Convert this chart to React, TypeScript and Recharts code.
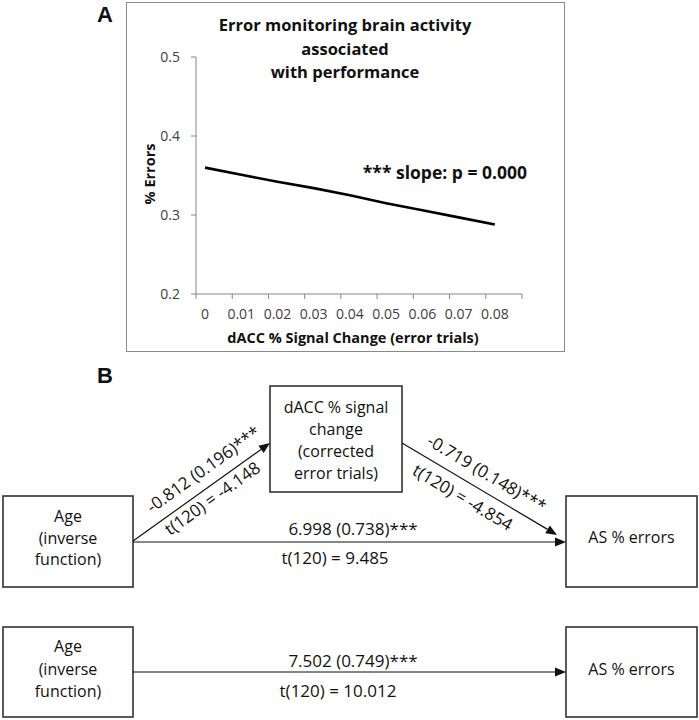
import React from "react";
import { LineChart, Line, XAxis, YAxis } from "recharts";

// ---------- Panel A data ----------
const signalChange = [0, 0.01, 0.02, 0.03, 0.04, 0.05, 0.06, 0.07, 0.08];
const errorRates = [0.36, 0.351, 0.342, 0.334, 0.325, 0.315, 0.306, 0.297, 0.288];
const yTicks = [0.2, 0.3, 0.4, 0.5];
const xTickMarks = [-0.0025, 0.0075, 0.0175, 0.0275, 0.0375, 0.0475, 0.0575, 0.0675, 0.0775, 0.0875];
const xTickLabels = ["0", "0.01", "0.02", "0.03", "0.04", "0.05", "0.06", "0.07", "0.08"];
const titleLines = ["Error monitoring brain activity", "associated", "with performance"];
const slopeNote = "*** slope: p = 0.000";
const xTitle = "dACC % Signal Change (error trials)";
const yTitle = "% Errors";

// ---------- Panel B data ----------
const ageBox = ["Age", "(inverse", "function)"];
const mediatorBox = ["dACC % signal", "change", "(corrected", "error trials)"];
const outcomeBox = ["AS % errors"];
const pathA = ["-0.812 (0.196)***", "t(120) = -4.148"];
const pathB = ["-0.719 (0.148)***", "t(120) = -4.854"];
const pathCprime = ["6.998 (0.738)***", "t(120) = 9.485"];
const pathC = ["7.502 (0.749)***", "t(120) = 10.012"];

const data = signalChange.map((x, i) => ({ x, y: errorRates[i] }));

const FONT = "'Open Sans', 'Noto Sans', sans-serif";
const W = 699;
const PLOT_LEFT = 196;
const PLOT_RIGHT = 522;
const X_DOMAIN: [number, number] = [-0.0025, 0.0875];
const HALF_STEP = ((PLOT_RIGHT - PLOT_LEFT) * 0.0025) / (X_DOMAIN[1] - X_DOMAIN[0]);

const XTick = (props: any) => {
  const { x, y, index } = props;
  if (index >= xTickLabels.length) return null;
  return (
    <text x={x + HALF_STEP} y={y} dy="0.71em" textAnchor="middle" fontSize={14} fill="#404040" fontFamily={FONT}>
      {xTickLabels[index]}
    </text>
  );
};

const Box = ({ x, y, w, h, lines, cy, lh }: any) => (
  <g>
    <rect x={x} y={y} width={w} height={h} fill="#fff" stroke="#333" strokeWidth={1.6} />
    {lines.map((t: string, i: number) => (
      <text key={i} x={x + w / 2} y={cy + i * lh} textAnchor="middle" dominantBaseline="central" fontSize={16} fontFamily={FONT} fill="#111">
        {t}
      </text>
    ))}
  </g>
);

const Arrow = ({ x1, y1, x2, y2 }: any) => {
  const a = Math.atan2(y2 - y1, x2 - x1);
  const L = 11;
  const Hw = 4.5;
  const bx = x2 - L * Math.cos(a);
  const by = y2 - L * Math.sin(a);
  const p1 = `${x2},${y2}`;
  const p2 = `${bx + Hw * Math.sin(a)},${by - Hw * Math.cos(a)}`;
  const p3 = `${bx - Hw * Math.sin(a)},${by + Hw * Math.cos(a)}`;
  return (
    <g>
      <line x1={x1} y1={y1} x2={bx} y2={by} stroke="#111" strokeWidth={1.2} />
      <polygon points={`${p1} ${p2} ${p3}`} fill="#111" />
    </g>
  );
};

const RotLabel = ({ cx, cy, angle, text }: any) => (
  <text
    x={cx}
    y={cy}
    textAnchor="middle"
    dominantBaseline="central"
    fontSize={17}
    fontFamily={FONT}
    fill="#111"
    transform={`rotate(${angle}, ${cx}, ${cy})`}
  >
    {text}
  </text>
);

export default function App() {
  const angA = (Math.atan2(443 - 541, 270 - 133) * 180) / Math.PI;
  const angB = (Math.atan2(535 - 443, 557 - 402) * 180) / Math.PI;
  return (
    <div style={{ position: "absolute", left: 0, top: 0, width: W, height: 720, background: "#fff" }}>
      <div style={{ position: "absolute", left: 0, top: 0 }}>
        <LineChart width={W} height={360} data={data} margin={{ top: 57, right: W - PLOT_RIGHT, bottom: 36, left: 136 }}>
          <XAxis
            dataKey="x"
            type="number"
            domain={X_DOMAIN}
            ticks={xTickMarks}
            interval={0}
            height={30}
            tickSize={5}
            tickMargin={10}
            axisLine={{ stroke: "#868686" }}
            tickLine={{ stroke: "#868686" }}
            tick={<XTick />}
          />
          <YAxis
            type="number"
            domain={[0.2, 0.5]}
            ticks={yTicks}
            width={60}
            tickSize={5}
            tickMargin={11}
            axisLine={{ stroke: "#868686" }}
            tickLine={{ stroke: "#868686" }}
            tick={{ fontSize: 14, fill: "#404040", fontFamily: FONT }}
            tickFormatter={(v: number) => String(v)}
          />
          <Line dataKey="y" type="linear" stroke="#000" strokeWidth={2.6} dot={false} isAnimationActive={false} />
        </LineChart>
      </div>
      <svg width={W} height={720} style={{ position: "absolute", left: 0, top: 0, pointerEvents: "none" }}>
        {/* Panel A frame and texts */}
        <rect x={126.5} y={2.5} width={438} height={349} fill="none" stroke="#8a8a8a" strokeWidth={1} />
        <text x={97} y={22} fontSize={22} fontWeight="bold" fontFamily="'Liberation Sans', Arial, sans-serif" fill="#111">A</text>
        {titleLines.map((t, i) => (
          <text key={i} x={345} y={31 + i * 23.5} textAnchor="middle" fontSize={16.5} fontWeight="bold" fontFamily={FONT} fill="#111">
            {t}
          </text>
        ))}
        <text x={527} y={179} textAnchor="end" fontSize={17.5} fontWeight="bold" fontFamily={FONT} fill="#111">{slopeNote}</text>
        <text x={353} y={343} textAnchor="middle" fontSize={14.5} fontWeight="bold" fontFamily={FONT} fill="#111">{xTitle}</text>
        <text x={155} y={174} textAnchor="middle" fontSize={14.5} fontWeight="bold" fontFamily={FONT} fill="#111" transform="rotate(-90, 155, 174)">{yTitle}</text>

        {/* Panel B */}
        <text x={97} y={383} fontSize={22} fontWeight="bold" fontFamily="'Liberation Sans', Arial, sans-serif" fill="#111">B</text>
        <Box x={270} y={386} w={132} h={106} lines={mediatorBox} cy={407} lh={22} />
        <Box x={3} y={496} w={130} h={91} lines={ageBox} cy={516} lh={21.5} />
        <Box x={566} y={496} w={131} h={91} lines={outcomeBox} cy={537} lh={22} />
        <Box x={3} y={627} w={130} h={90} lines={ageBox} cy={646} lh={22.5} />
        <Box x={566} y={627} w={131} h={90} lines={outcomeBox} cy={669} lh={22} />

        <Arrow x1={133} y1={541} x2={270} y2={443} />
        <Arrow x1={402} y1={443} x2={557} y2={535} />
        <Arrow x1={133} y1={542} x2={566} y2={542} />
        <Arrow x1={133} y1={672} x2={566} y2={672} />

        <RotLabel cx={203} cy={469} angle={angA} text={pathA[0]} />
        <RotLabel cx={212} cy={498} angle={angA} text={pathA[1]} />
        <RotLabel cx={487} cy={473} angle={angB} text={pathB[0]} />
        <RotLabel cx={463} cy={497} angle={angB} text={pathB[1]} />

        <text x={353} y={528} textAnchor="middle" dominantBaseline="central" fontSize={17} fontFamily={FONT} fill="#111">{pathCprime[0]}</text>
        <text x={335} y={557} textAnchor="middle" dominantBaseline="central" fontSize={17} fontFamily={FONT} fill="#111">{pathCprime[1]}</text>
        <text x={353} y={660} textAnchor="middle" dominantBaseline="central" fontSize={17} fontFamily={FONT} fill="#111">{pathC[0]}</text>
        <text x={338} y={690} textAnchor="middle" dominantBaseline="central" fontSize={17} fontFamily={FONT} fill="#111">{pathC[1]}</text>
      </svg>
    </div>
  );
}
